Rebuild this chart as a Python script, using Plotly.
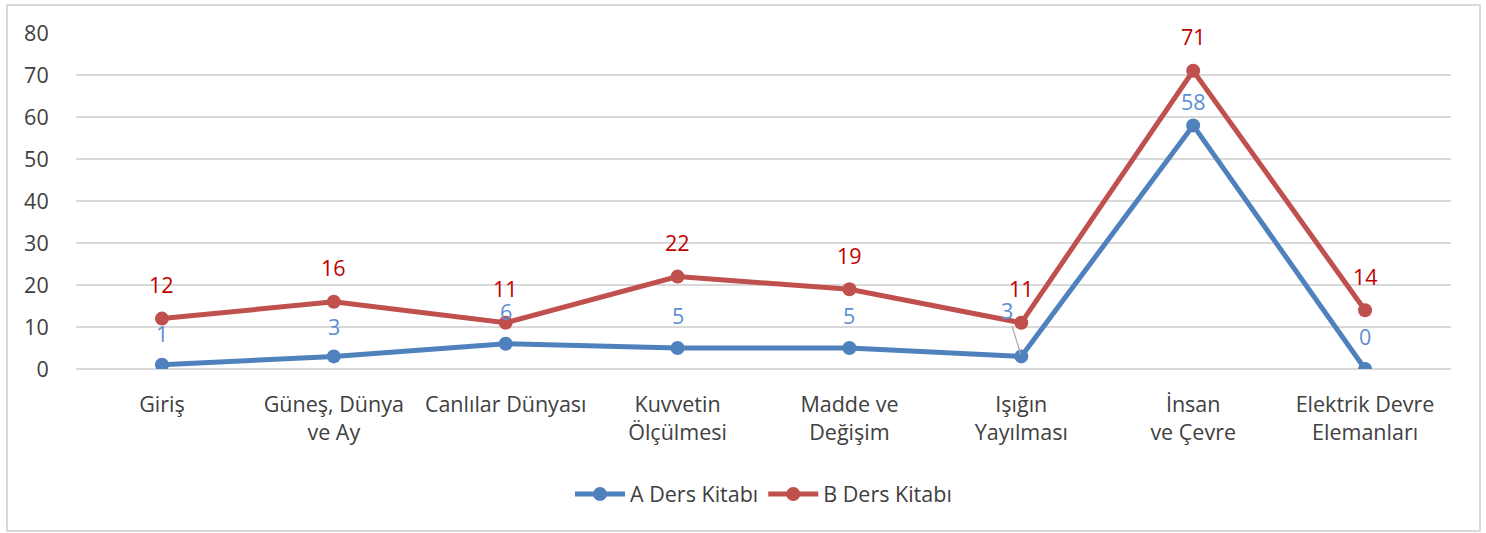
import plotly.graph_objects as go

categories = ["Giriş", "Güneş, Dünya<br>ve Ay", "Canlılar Dünyası", "Kuvvetin<br>Ölçülmesi",
              "Madde ve<br>Değişim", "Işığın<br>Yayılması", "İnsan<br>ve Çevre", "Elektrik Devre<br>Elemanları"]
a_values = [1, 3, 6, 5, 5, 3, 58, 0]
b_values = [12, 16, 11, 22, 19, 11, 71, 14]
a_name = "A Ders Kitabı"
b_name = "B Ders Kitabı"
y_ticks = [0, 10, 20, 30, 40, 50, 60, 70, 80]

# style: label offsets (pixels) above points
a_shift = [31, 30, 32, 33, 33, 0, 24, 33]
b_shift = 34

FONT = "Open Sans"
FS = 21.5
TXT = "#404040"
A_LINE = "#4F81BD"
B_LINE = "#C0504D"
A_LBL = "#5B8FD3"
B_LBL = "#C00000"

xs = list(range(len(categories)))

fig = go.Figure()
fig.add_trace(go.Scatter(x=xs, y=a_values, mode="lines+markers", name=a_name,
                         line=dict(color=A_LINE, width=5), marker=dict(size=14, color=A_LINE)))
fig.add_trace(go.Scatter(x=xs, y=b_values, mode="lines+markers", name=b_name,
                         line=dict(color=B_LINE, width=5), marker=dict(size=14, color=B_LINE)))

ann = []
for i, v in enumerate(b_values):
    ann.append(dict(x=xs[i], y=v, text=str(v), showarrow=False, yshift=b_shift,
                    font=dict(family=FONT, size=FS, color=B_LBL)))
for i, v in enumerate(a_values):
    if i == 5:
        ann.append(dict(x=xs[i], y=v, text=str(v), showarrow=True, ax=-14, ay=-46,
                        arrowhead=0, arrowwidth=1.2, arrowcolor="#A6A6A6", standoff=2,
                        font=dict(family=FONT, size=FS, color=A_LBL)))
    else:
        ann.append(dict(x=xs[i], y=v, text=str(v), showarrow=False, yshift=a_shift[i],
                        font=dict(family=FONT, size=FS, color=A_LBL)))

L, R, T, B = 76, 35, 33, 164
W, H = 1486, 533
pw, ph = W - L - R, H - T - B

def px_x(p):
    return (p - L) / pw

def px_y(p):
    return (H - B - p) / ph

fig.update_layout(
    width=W, height=H,
    margin=dict(l=L, r=R, t=T, b=B),
    paper_bgcolor="white", plot_bgcolor="white",
    font=dict(family=FONT, size=FS, color=TXT),
    annotations=ann,
    showlegend=True,
    legend=dict(orientation="h", x=0.5, xanchor="center", xref="paper",
                y=px_y(494), yanchor="middle", font=dict(family=FONT, size=FS, color=TXT),
                itemwidth=50, bgcolor="rgba(0,0,0,0)"),
    shapes=[dict(type="rect", xref="paper", yref="paper",
                 x0=px_x(7), x1=px_x(1480), y0=px_y(531), y1=px_y(5),
                 line=dict(color="#D9D9D9", width=2), fillcolor="rgba(0,0,0,0)", layer="below")],
)
fig.update_xaxes(tickmode="array", tickvals=xs, ticktext=categories, range=[-0.5, len(xs) - 0.5],
                 showgrid=False, zeroline=False, showline=False,
                 ticks="outside", ticklen=16, tickcolor="rgba(0,0,0,0)",
                 tickfont=dict(family=FONT, size=FS, color=TXT))
fig.update_yaxes(range=[0, 80], tickvals=y_ticks, showgrid=True, gridcolor="#D9D9D9", gridwidth=1.5,
                 zeroline=True, zerolinecolor="#D9D9D9", zerolinewidth=1.5, showline=False,
                 ticks="outside", ticklen=22, tickcolor="rgba(0,0,0,0)",
                 tickfont=dict(family=FONT, size=FS, color=TXT))

fig.write_html("out.html", config={"displayModeBar": False},
               post_script="document.body.style.margin='0';")
